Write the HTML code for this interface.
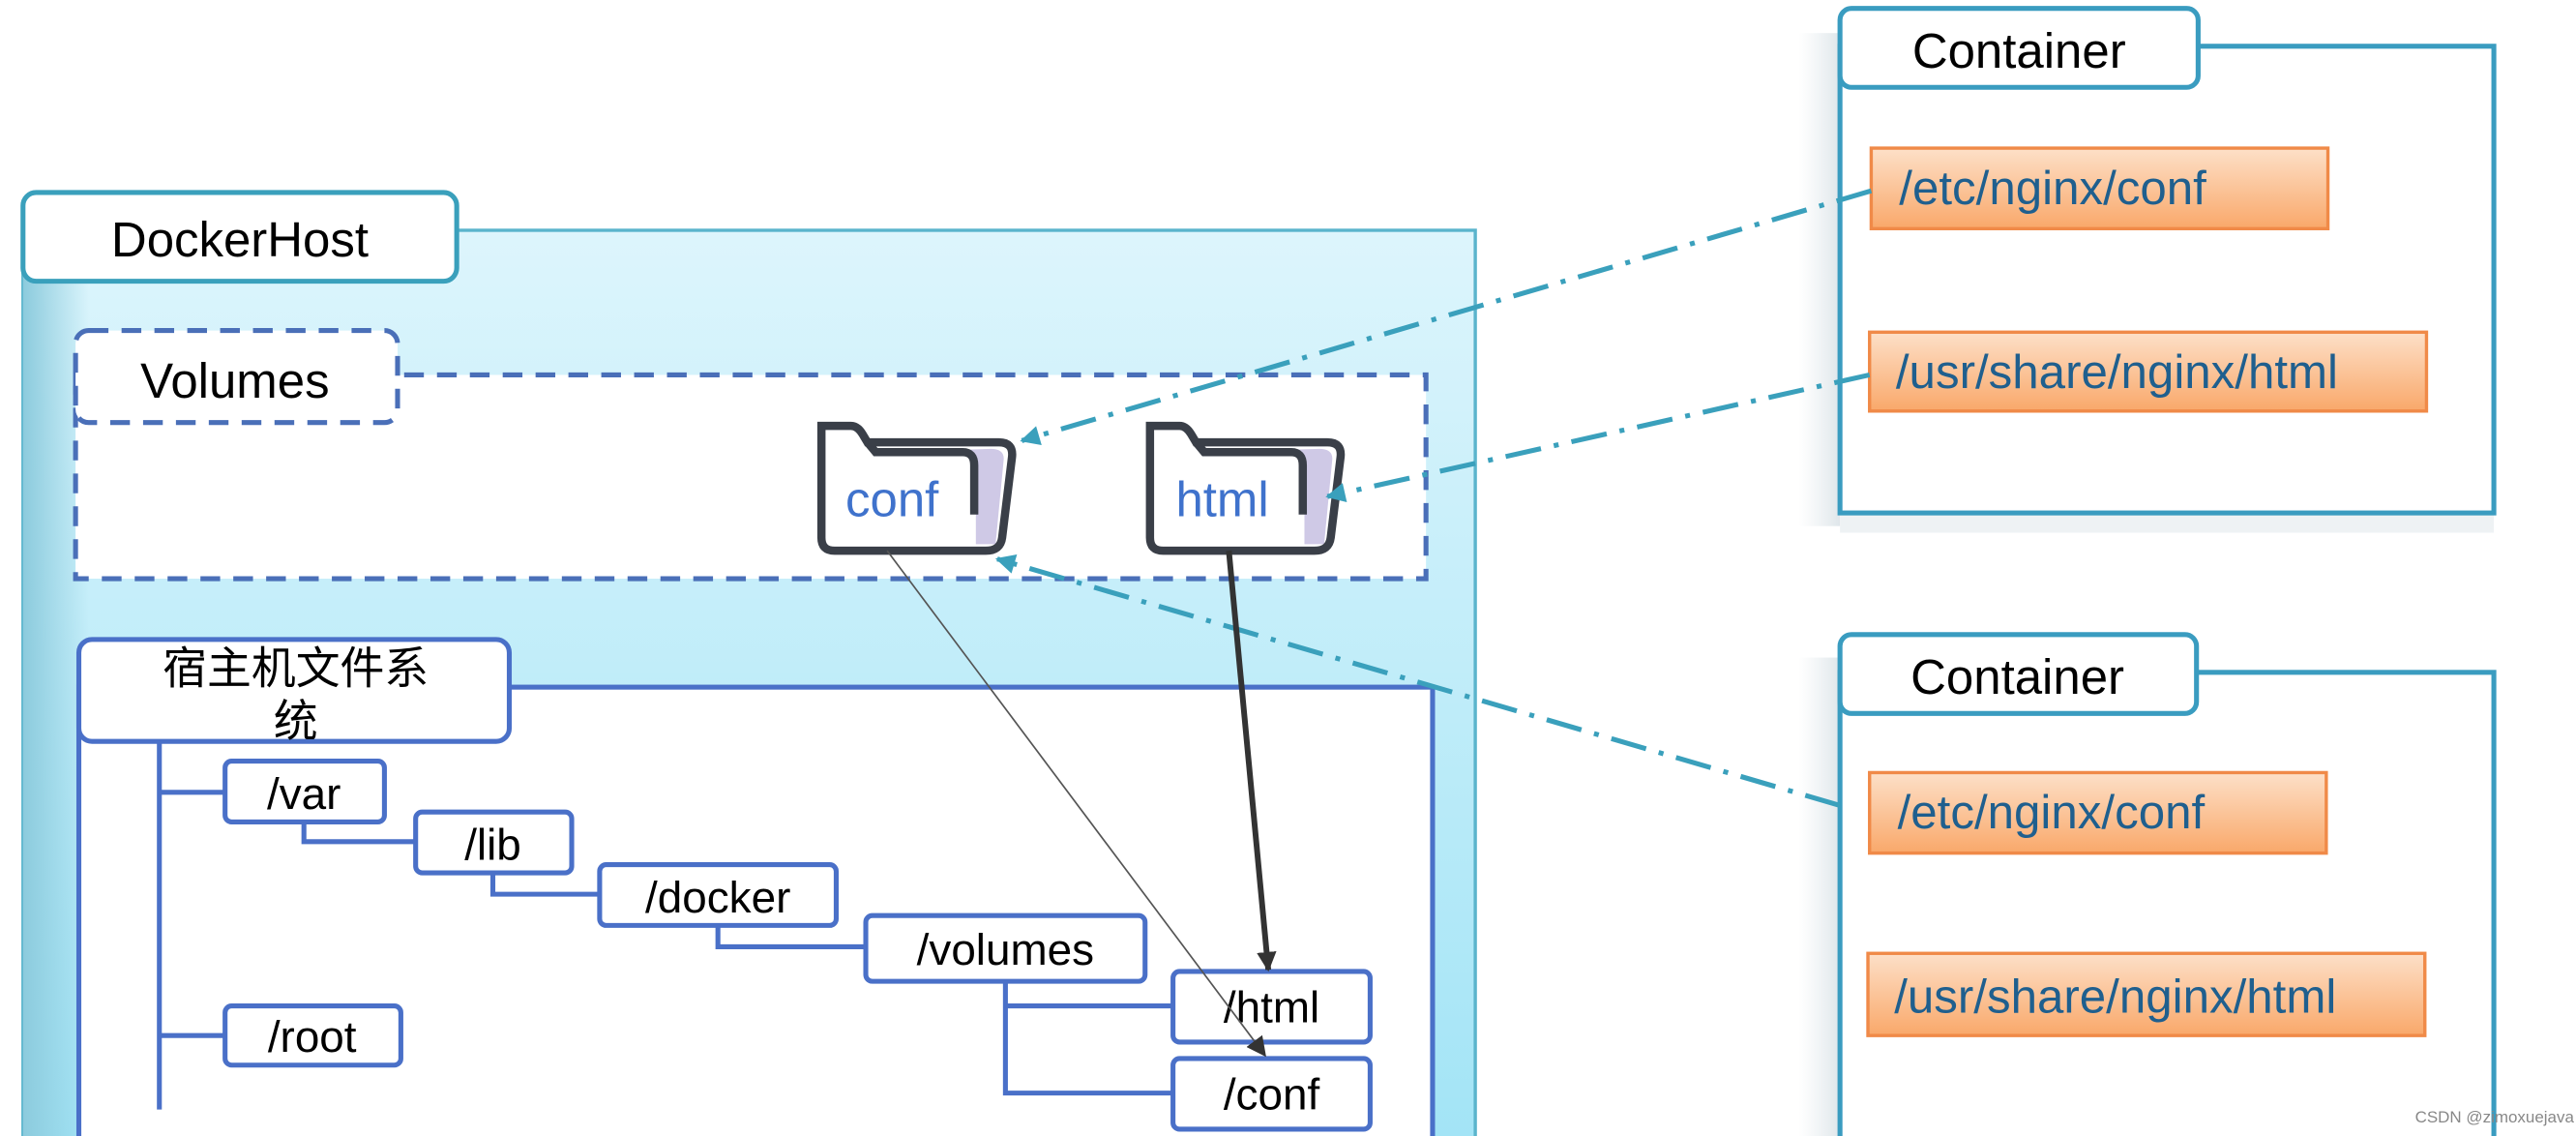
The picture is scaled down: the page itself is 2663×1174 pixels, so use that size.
<!DOCTYPE html>
<html><head><meta charset="utf-8"><style>
html,body{margin:0;padding:0;background:#fff;}
svg{display:block;}
text{font-family:"Liberation Sans","Noto Sans CJK SC",sans-serif;}
</style></head><body>
<svg width="2663" height="1174" viewBox="0 0 1568 691" xmlns="http://www.w3.org/2000/svg">
<defs>
<linearGradient id="host" x1="0" y1="0" x2="0" y2="1">
<stop offset="0" stop-color="#ddf5fc"/><stop offset="1" stop-color="#a2e4f6"/>
</linearGradient>
<linearGradient id="hostL" x1="0" y1="0" x2="1" y2="0">
<stop offset="0" stop-color="#8ccbdd"/><stop offset="1" stop-color="#8ccbdd" stop-opacity="0"/>
</linearGradient>
<linearGradient id="shd" x1="0" y1="0" x2="1" y2="0">
<stop offset="0" stop-color="#e6ecef" stop-opacity="0"/><stop offset="1" stop-color="#dfe6ea"/>
</linearGradient>
<linearGradient id="org" x1="0" y1="0" x2="0" y2="1">
<stop offset="0" stop-color="#fde0c8"/><stop offset="1" stop-color="#f9a86a"/>
</linearGradient>
<marker id="ab" viewBox="0 0 10 10" markerWidth="16" markerHeight="12" refX="9" refY="5" orient="auto" markerUnits="userSpaceOnUse">
<path d="M0,0 L10,5 L0,10 Z" fill="#3aa0bc"/></marker>
<marker id="ak2" viewBox="0 0 10 10" markerWidth="12" markerHeight="12" refX="9" refY="5" orient="auto" markerUnits="userSpaceOnUse">
<path d="M0,0 L10,5 L0,10 Z" fill="#333"/></marker>
<g id="folder">
<path d="M2,4 L20,4 Q24,4 27,9 L30,14 L110,14 Q119,14 118,23 L112,72 Q111,80 102,80 L10,80 Q2,80 2,72 Z" fill="#fff"/>
<path d="M35,20 L88,20 Q96,20 96,28 L96,76 L108,76 L113,24 Q113,18 105,18 Z" fill="#cfc9e6"/>
<path d="M30,14 L35,20 L88,20 Q95,20 95,28 L95,58" fill="none" stroke="#3a3f48" stroke-width="5"/>
<path d="M2,4 L20,4 Q24,4 27,9 L30,14 L110,14 Q119,14 118,23 L112,72 Q111,80 102,80 L10,80 Q2,80 2,72 Z" fill="none" stroke="#3a3f48" stroke-width="5"/>
</g>
</defs>

<rect x="14" y="140" width="884" height="560" fill="url(#host)" stroke="#5ab4cc" stroke-width="2"/>
<rect x="14" y="160" width="40" height="540" fill="url(#hostL)"/>
<rect x="14" y="117" width="264" height="54" rx="8" fill="#fff" stroke="#3aa0bc" stroke-width="3"/>
<text x="146" y="156" font-size="30" text-anchor="middle" fill="#000">DockerHost</text>

<rect x="46" y="228" width="822" height="124" fill="#fff" stroke="#4a6fb8" stroke-width="3" stroke-dasharray="12,8"/>
<rect x="46" y="201" width="196" height="56" rx="8" fill="#fff" stroke="#4a6fb8" stroke-width="3" stroke-dasharray="12,8"/>
<text x="143" y="242" font-size="30" text-anchor="middle" fill="#000">Volumes</text>

<use href="#folder" x="498" y="255"/>
<use href="#folder" x="698" y="255"/>
<text x="543" y="314" font-size="30" text-anchor="middle" fill="#3f72cc">conf</text>
<text x="744" y="314" font-size="30" text-anchor="middle" fill="#3f72cc">html</text>

<rect x="48" y="418" width="824" height="290" fill="#fff" stroke="#4a70c8" stroke-width="3"/>
<rect x="48" y="389" width="262" height="62" rx="8" fill="#fff" stroke="#4a70c8" stroke-width="3"/>
<text x="180" y="416" font-size="27" text-anchor="middle" fill="#000">宿主机文件系</text>
<text x="180" y="448" font-size="27" text-anchor="middle" fill="#000">统</text>

<g stroke="#4a70c8" stroke-width="3" fill="none">
<path d="M97,451 V675"/>
<path d="M97,482 H137"/>
<path d="M97,630 H137"/>
<path d="M185,500 V512 H253"/>
<path d="M300,531 V544 H365"/>
<path d="M437,563 V576 H527"/>
<path d="M612,597 V665 H714 M612,612 H714"/>
</g>
<g fill="#fff" stroke="#4a70c8" stroke-width="3">
<rect x="137" y="463" width="97" height="37" rx="4"/>
<rect x="253" y="494" width="95" height="37" rx="4"/>
<rect x="365" y="526" width="144" height="37" rx="4"/>
<rect x="527" y="557" width="170" height="40" rx="4"/>
<rect x="714" y="591" width="120" height="43" rx="4"/>
<rect x="714" y="644" width="120" height="43" rx="4"/>
<rect x="137" y="612" width="107" height="36" rx="4"/>
</g>
<g font-size="27" text-anchor="middle" fill="#000">
<text x="185" y="492">/var</text>
<text x="300" y="523">/lib</text>
<text x="437" y="555">/docker</text>
<text x="612" y="587">/volumes</text>
<text x="774" y="622">/html</text>
<text x="774" y="675">/conf</text>
<text x="190" y="640">/root</text>
</g>

<rect x="1095" y="20" width="25" height="300" fill="url(#shd)"/>
<rect x="1095" y="400" width="25" height="300" fill="url(#shd)"/>
<rect x="1120" y="312" width="398" height="12" fill="#eef2f4"/>
<rect x="1120" y="28" width="398" height="284" fill="#fff" stroke="#3a9cc0" stroke-width="3"/>
<rect x="1120" y="5" width="218" height="48" rx="7" fill="#fff" stroke="#3a9cc0" stroke-width="3"/>
<text x="1229" y="41" font-size="30" text-anchor="middle" fill="#000">Container</text>
<rect x="1120" y="409" width="398" height="300" fill="#fff" stroke="#3a9cc0" stroke-width="3"/>
<rect x="1120" y="386" width="217" height="48" rx="7" fill="#fff" stroke="#3a9cc0" stroke-width="3"/>
<text x="1228" y="422" font-size="30" text-anchor="middle" fill="#000">Container</text>

<g fill="url(#org)" stroke="#f08a48" stroke-width="2">
<rect x="1139" y="90" width="278" height="49"/>
<rect x="1138" y="202" width="339" height="48"/>
<rect x="1138" y="470" width="278" height="49"/>
<rect x="1137" y="580" width="339" height="50"/>
</g>
<g font-size="29" fill="#1f5f8e">
<text x="1156" y="124">/etc/nginx/conf</text>
<text x="1154" y="236">/usr/share/nginx/html</text>
<text x="1155" y="504">/etc/nginx/conf</text>
<text x="1153" y="616">/usr/share/nginx/html</text>
</g>

<g stroke="#3aa0bc" stroke-width="3" fill="none" stroke-dasharray="22,8,3,8">
<path d="M1139,116 L622,268" marker-end="url(#ab)"/>
<path d="M1138,228 L808,302" marker-end="url(#ab)"/>
<path d="M1120,490 L607,340" marker-end="url(#ab)"/>
</g>
<path d="M748,335 L772,590" stroke="#333" stroke-width="3.5" fill="none" marker-end="url(#ak2)"/>
<path d="M540,335 L770,642" stroke="#555" stroke-width="1" fill="none" marker-end="url(#ak2)"/>

<text x="1470" y="683" font-size="10" fill="#888">CSDN @zimoxuejava</text>
</svg>
</body></html>
